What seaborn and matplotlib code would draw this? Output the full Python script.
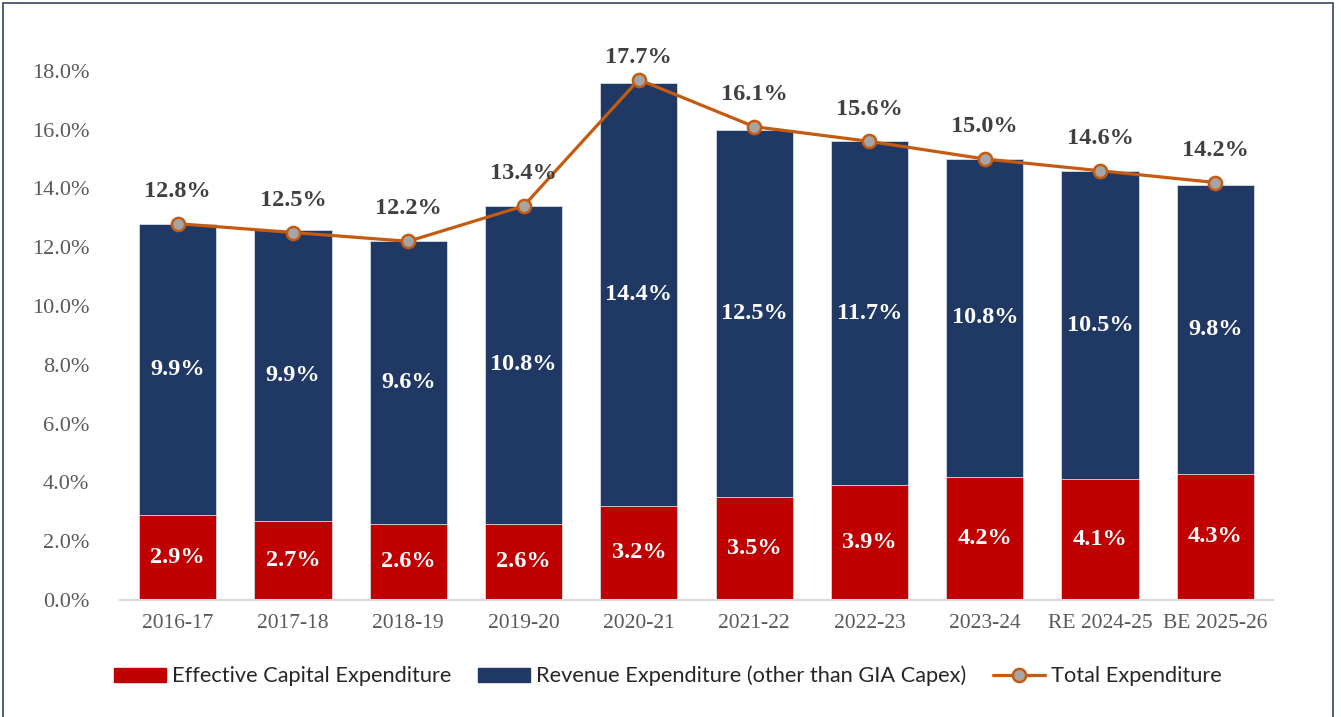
import matplotlib.pyplot as plt
import matplotlib.patches as mpatches
from matplotlib.lines import Line2D
import pandas as pd
import seaborn as sns

years = ["2016-17", "2017-18", "2018-19", "2019-20", "2020-21",
         "2021-22", "2022-23", "2023-24", "RE 2024-25", "BE 2025-26"]
capital = [2.9, 2.7, 2.6, 2.6, 3.2, 3.5, 3.9, 4.2, 4.1, 4.3]
revenue = [9.9, 9.9, 9.6, 10.8, 14.4, 12.5, 11.7, 10.8, 10.5, 9.8]
total = [12.8, 12.5, 12.2, 13.4, 17.7, 16.1, 15.6, 15.0, 14.6, 14.2]

RED = "#C00000"
NAVY = "#203864"
ORANGE = "#C55A11"
GREY_MARK = "#A5A5A5"

df = pd.DataFrame({"year": years, "capital": capital,
                   "revenue": revenue, "total": total})
df["stack"] = df["capital"] + df["revenue"]

sns.set_theme(style="white")
plt.rcParams["font.family"] = ["Liberation Serif", "DejaVu Serif"]

W, H = 1341, 717
fig = plt.figure(figsize=(W / 100, H / 100), dpi=100)
ax = fig.add_axes([120 / W, 1 - 600 / H, (1273 - 120) / W, 588 / H])

# stacked bars: full stack first, capital drawn over it
sns.barplot(data=df, x="year", y="stack", color=NAVY, saturation=1,
            width=0.67, edgecolor="#D6DCE5", linewidth=0.6, ax=ax)
sns.barplot(data=df, x="year", y="capital", color=RED, saturation=1,
            width=0.67, edgecolor="#D6DCE5", linewidth=0.6, ax=ax)
sns.pointplot(data=df, x="year", y="total", color=ORANGE, markers="o",
              linewidth=2.3, markersize=9.5, markerfacecolor=GREY_MARK,
              markeredgecolor=ORANGE, markeredgewidth=1.8, errorbar=None, ax=ax)

# data labels (total labels kept inside the chart area, like Excel does)
for i, row in df.iterrows():
    ax.text(i, row["capital"] / 2, f"{row['capital']:.1f}%", ha="center",
            va="center", color="white", fontsize=17.5, fontweight="bold")
    ax.text(i, row["capital"] + row["revenue"] / 2, f"{row['revenue']:.1f}%",
            ha="center", va="center", color="white", fontsize=17.5,
            fontweight="bold")
    ax.text(i, min(row["total"] + 1.1, 18.45), f"{row['total']:.1f}%",
            ha="center", va="center", color="#404040", fontsize=17.5,
            fontweight="bold")

ax.set_xlim(-0.5, 9.5)
ax.set_ylim(0, 20)
ax.set_yticks(range(0, 20, 2))
ax.set_yticklabels([f"{v:.1f}%" for v in range(0, 20, 2)])
ax.tick_params(axis="y", labelsize=16, labelcolor="#595959", pad=22, length=0)
ax.tick_params(axis="x", labelsize=15.5, labelcolor="#595959", pad=10, length=0)
ax.set_xlabel("")
ax.set_ylabel("")
for side in ["top", "right", "left"]:
    ax.spines[side].set_visible(False)
ax.spines["bottom"].set_color("#D9D9D9")
ax.spines["bottom"].set_linewidth(1.5)
ax.set_facecolor("none")

handles = [
    mpatches.Patch(color=RED, label="Effective Capital Expenditure"),
    mpatches.Patch(color=NAVY, label="Revenue Expenditure (other than GIA Capex)"),
    Line2D([0], [0], color=ORANGE, lw=2.3, marker="o", markersize=9.5,
           markerfacecolor=GREY_MARK, markeredgecolor=ORANGE,
           markeredgewidth=1.8, label="Total Expenditure"),
]
fig.legend(handles=handles, loc="center", bbox_to_anchor=(0.498, 1 - 676 / H),
           ncol=3, frameon=False, handlelength=2.4, handleheight=0.6,
           handletextpad=0.28, columnspacing=1.2,
           prop={"family": ["Lato", "DejaVu Sans"], "size": 15.7})

fig.patches.append(mpatches.Rectangle((3 / W, -0.02), 1330 / W, 1.02 - 2.5 / H,
                                      transform=fig.transFigure, fill=False,
                                      edgecolor="#44546A", linewidth=1.3))

fig.savefig("out.png", dpi=100)
